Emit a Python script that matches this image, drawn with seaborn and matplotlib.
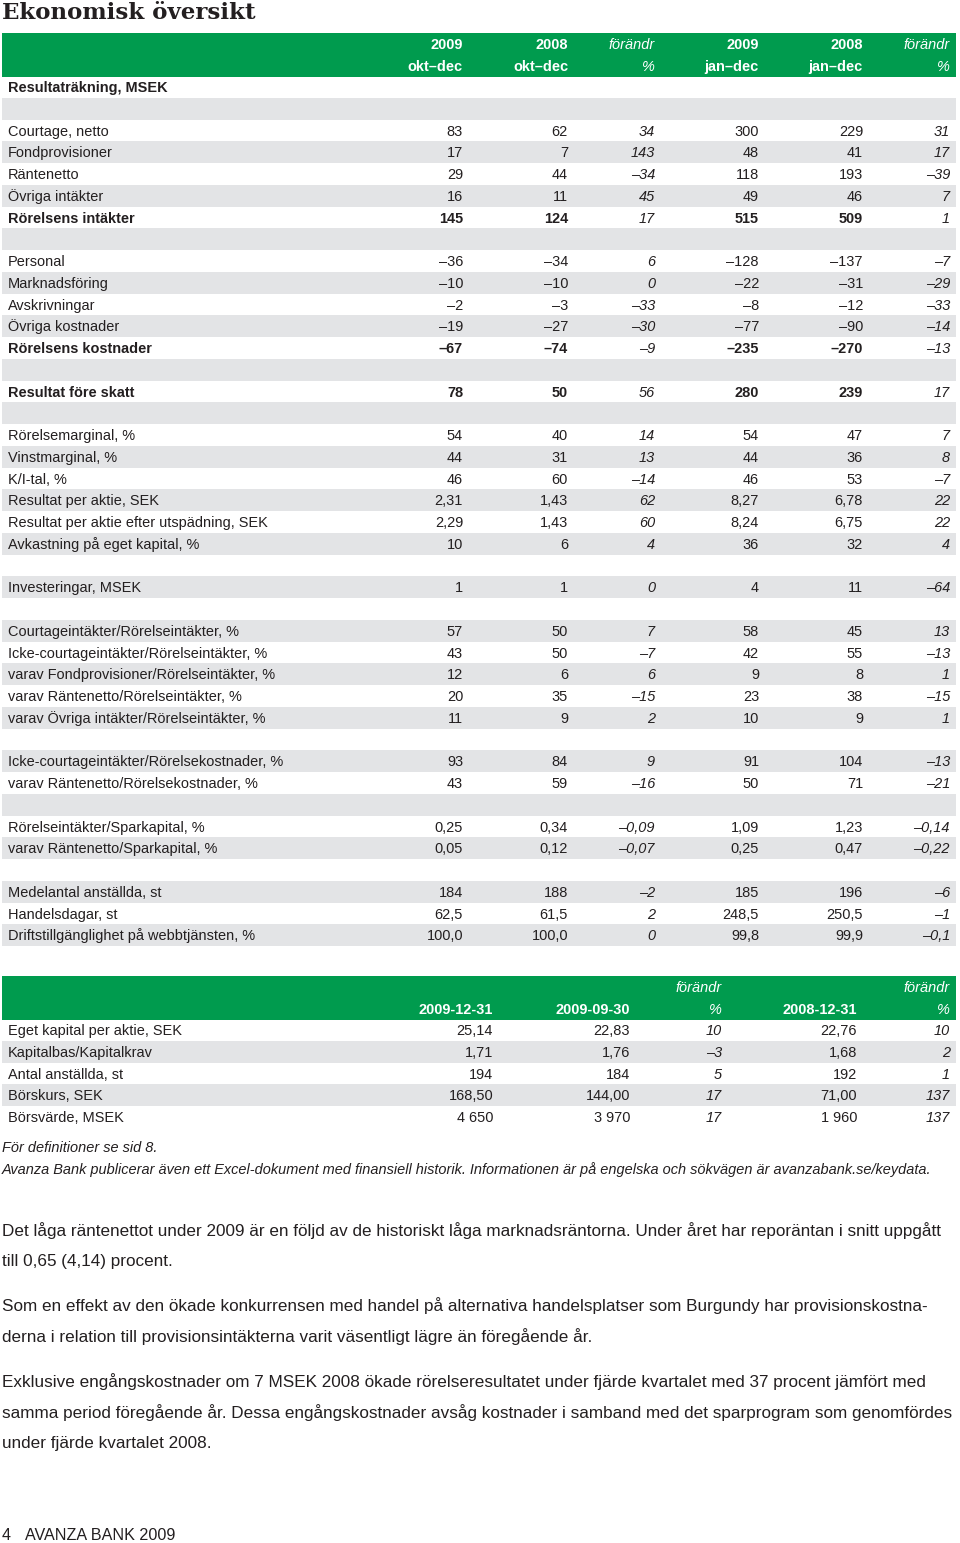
import matplotlib
matplotlib.use("Agg")
import matplotlib.pyplot as plt
import seaborn as sns

# ---------------------------------------------------------
# Data: Ekonomisk översikt (Avanza Bank 2009)
# ---------------------------------------------------------
# row labels of the first table ("" = empty spacer row)
labels = [
    "Resultaträkning, MSEK", "",
    "Courtage, netto", "Fondprovisioner", "Räntenetto", "Övriga intäkter", "Rörelsens intäkter", "",
    "Personal", "Marknadsföring", "Avskrivningar", "Övriga kostnader", "Rörelsens kostnader", "",
    "Resultat före skatt", "",
    "Rörelsemarginal, %", "Vinstmarginal, %", "K/I-tal, %", "Resultat per aktie, SEK",
    "Resultat per aktie efter utspädning, SEK", "Avkastning på eget kapital, %", "",
    "Investeringar, MSEK", "",
    "Courtageintäkter/Rörelseintäkter, %", "Icke-courtageintäkter/Rörelseintäkter, %",
    "varav Fondprovisioner/Rörelseintäkter, %", "varav Räntenetto/Rörelseintäkter, %",
    "varav Övriga intäkter/Rörelseintäkter, %", "",
    "Icke-courtageintäkter/Rörelsekostnader, %", "varav Räntenetto/Rörelsekostnader, %", "",
    "Rörelseintäkter/Sparkapital, %", "varav Räntenetto/Sparkapital, %", "",
    "Medelantal anställda, st", "Handelsdagar, st", "Driftstillgänglighet på webbtjänsten, %",
]
bold_rows = ["Resultaträkning, MSEK", "Rörelsens intäkter", "Rörelsens kostnader", "Resultat före skatt"]

q4_2009 = ["", "", "83", "17", "29", "16", "145", "", "–36", "–10", "–2", "–19", "–67", "", "78", "",
           "54", "44", "46", "2,31", "2,29", "10", "", "1", "", "57", "43", "12", "20", "11", "",
           "93", "43", "", "0,25", "0,05", "", "184", "62,5", "100,0"]
q4_2008 = ["", "", "62", "7", "44", "11", "124", "", "–34", "–10", "–3", "–27", "–74", "", "50", "",
           "40", "31", "60", "1,43", "1,43", "6", "", "1", "", "50", "50", "6", "35", "9", "",
           "84", "59", "", "0,34", "0,12", "", "188", "61,5", "100,0"]
q4_chg = ["", "", "34", "143", "–34", "45", "17", "", "6", "0", "–33", "–30", "–9", "", "56", "",
          "14", "13", "–14", "62", "60", "4", "", "0", "", "7", "–7", "6", "–15", "2", "",
          "9", "–16", "", "–0,09", "–0,07", "", "–2", "2", "0"]
yr_2009 = ["", "", "300", "48", "118", "49", "515", "", "–128", "–22", "–8", "–77", "–235", "", "280", "",
           "54", "44", "46", "8,27", "8,24", "36", "", "4", "", "58", "42", "9", "23", "10", "",
           "91", "50", "", "1,09", "0,25", "", "185", "248,5", "99,8"]
yr_2008 = ["", "", "229", "41", "193", "46", "509", "", "–137", "–31", "–12", "–90", "–270", "", "239", "",
           "47", "36", "53", "6,78", "6,75", "32", "", "11", "", "45", "55", "8", "38", "9", "",
           "104", "71", "", "1,23", "0,47", "", "196", "250,5", "99,9"]
yr_chg = ["", "", "31", "17", "–39", "7", "1", "", "–7", "–29", "–33", "–14", "–13", "", "17", "",
          "7", "8", "–7", "22", "22", "4", "", "–64", "", "13", "–13", "1", "–15", "1", "",
          "–13", "–21", "", "–0,14", "–0,22", "", "–6", "–1", "–0,1"]

head1_top = ["2009", "2008", "förändr", "2009", "2008", "förändr"]
head1_bot = ["okt–dec", "okt–dec", "%", "jan–dec", "jan–dec", "%"]

# second table
labels2 = ["Eget kapital per aktie, SEK", "Kapitalbas/Kapitalkrav", "Antal anställda, st",
           "Börskurs, SEK", "Börsvärde, MSEK"]
d_0912 = ["25,14", "1,71", "194", "168,50", "4 650"]
d_0909 = ["22,83", "1,76", "184", "144,00", "3 970"]
d_chg1 = ["10", "–3", "5", "17", "17"]
d_0812 = ["22,76", "1,68", "192", "71,00", "1 960"]
d_chg2 = ["10", "2", "1", "137", "137"]
head2_top = ["", "", "förändr", "", "förändr"]
head2_bot = ["2009-12-31", "2009-09-30", "%", "2008-12-31", "%"]

footnotes = [
    "För definitioner se sid 8.",
    "Avanza Bank publicerar även ett Excel-dokument med finansiell historik. "
    "Informationen är på engelska och sökvägen är avanzabank.se/keydata.",
]
paragraphs = [
    ["Det låga räntenettot under 2009 är en följd av de historiskt låga marknadsräntorna. "
     "Under året har reporäntan i snitt uppgått",
     "till 0,65 (4,14) procent."],
    ["Som en effekt av den ökade konkurrensen med handel på alternativa handelsplatser "
     "som Burgundy har provisionskostna-",
     "derna i relation till provisionsintäkterna varit väsentligt lägre än föregående år."],
    ["Exklusive engångskostnader om 7 MSEK 2008 ökade rörelseresultatet under fjärde "
     "kvartalet med 37 procent jämfört med",
     "samma period föregående år. Dessa engångskostnader avsåg kostnader i samband med "
     "det sparprogram som genomfördes",
     "under fjärde kvartalet 2008."],
]

# ---------------------------------------------------------
# Style
# ---------------------------------------------------------
sns.set_theme(style="white")
plt.rcParams["font.family"] = ["Liberation Sans", "DejaVu Sans"]

GREEN = "#009b4e"
GREY = "#e3e4e6"
INK = "#231f20"

fig = plt.figure(figsize=(9.6, 15.43), dpi=100)
ax = fig.add_axes([0, 0, 1, 1])
ax.set_xlim(0, 960)
ax.set_ylim(1543, 0)
ax.axis("off")
renderer = fig.canvas.get_renderer()


def fit_size(txt, width, **kw):
    t = ax.text(0, 0, txt, fontsize=10, **kw)
    w = t.get_window_extent(renderer).width
    t.remove()
    return 10 * width / w


def put(x, y, txt, size, ha="left", **kw):
    # y is the visual centre of the capital letters
    ax.text(x, y + size * 100 / 72 * 0.36, txt, fontsize=size, ha=ha, va="baseline",
            color=kw.pop("color", INK), **kw)


# title
title_size = fit_size("Ekonomisk översikt", 253, family="DejaVu Serif", weight="bold")
put(2, 11, "Ekonomisk översikt", title_size, family="DejaVu Serif", weight="heavy")

# ---------------------------------------------------------
# Table 1
# ---------------------------------------------------------
fs1 = fit_size("Driftstillgänglighet på webbtjänsten, %", 245)
ROW = 21.75
y0 = 87
cols1 = [463, 568, 655, 759, 863, 950]
series1 = [q4_2009, q4_2008, q4_chg, yr_2009, yr_2008, yr_chg]

ax.axhspan(33, 76.5, xmin=2 / 960, xmax=956 / 960, color=GREEN, lw=0)
for x, top, bot in zip(cols1, head1_top, head1_bot):
    it = "italic" if top == "förändr" else "normal"
    wt = "normal" if top == "förändr" else "bold"
    put(x, 44, top, fs1, ha="right", color="white", style=it, weight=wt)
    put(x, 66, bot, fs1, ha="right", color="white", style=it, weight=wt)

for k, lab in enumerate(labels):
    yc = y0 + k * ROW
    if k % 2 == 1:
        ax.axhspan(yc - ROW / 2, yc + ROW / 2, xmin=2 / 960, xmax=956 / 960, color=GREY, lw=0)
    b = "bold" if lab in bold_rows else "normal"
    put(8, yc, lab, fs1, weight=b)
    for j, (x, s) in enumerate(zip(cols1, series1)):
        if j in (2, 5):
            put(x, yc, s[k], fs1, ha="right", style="italic")
        else:
            put(x, yc, s[k], fs1, ha="right", weight=b)

# ---------------------------------------------------------
# Table 2
# ---------------------------------------------------------
fs2 = fit_size("Eget kapital per aktie, SEK", 173)
y2 = 1030
cols2 = [493, 630, 722, 857, 950]
series2 = [d_0912, d_0909, d_chg1, d_0812, d_chg2]

ax.axhspan(976, 1019.5, xmin=2 / 960, xmax=956 / 960, color=GREEN, lw=0)
for x, top, bot in zip(cols2, head2_top, head2_bot):
    put(x, 987, top, fs2, ha="right", color="white", style="italic")
    it = "italic" if bot == "%" else "normal"
    wt = "normal" if bot == "%" else "bold"
    put(x, 1008.5, bot, fs2, ha="right", color="white", style=it, weight=wt)

for k, lab in enumerate(labels2):
    yc = y2 + k * ROW
    if k % 2 == 1:
        ax.axhspan(yc - ROW / 2, yc + ROW / 2, xmin=2 / 960, xmax=956 / 960, color=GREY, lw=0)
    put(8, yc, lab, fs2)
    for j, (x, s) in enumerate(zip(cols2, series2)):
        put(x, yc, s[k], fs2, ha="right", style="italic" if j in (2, 4) else "normal")

# ---------------------------------------------------------
# Notes and body text
# ---------------------------------------------------------
fsn = fit_size(footnotes[1], 928, style="italic")
put(2, 1147, footnotes[0], fsn, style="italic")
put(2, 1169, footnotes[1], fsn, style="italic")

# widest body line sets the size
fsp = min(fit_size(line, 950) for lines in paragraphs for line in lines)
para_y = [[1230, 1260], [1305, 1336], [1381, 1412, 1442]]
for lines, ys in zip(paragraphs, para_y):
    for line, y in zip(lines, ys):
        put(2, y, line, fsp)

fsf = fit_size("AVANZA BANK 2009", 150)
put(2, 1534, "4", fsf)
put(25, 1534, "AVANZA BANK 2009", fsf)

fig.savefig("out.png", dpi=100)
